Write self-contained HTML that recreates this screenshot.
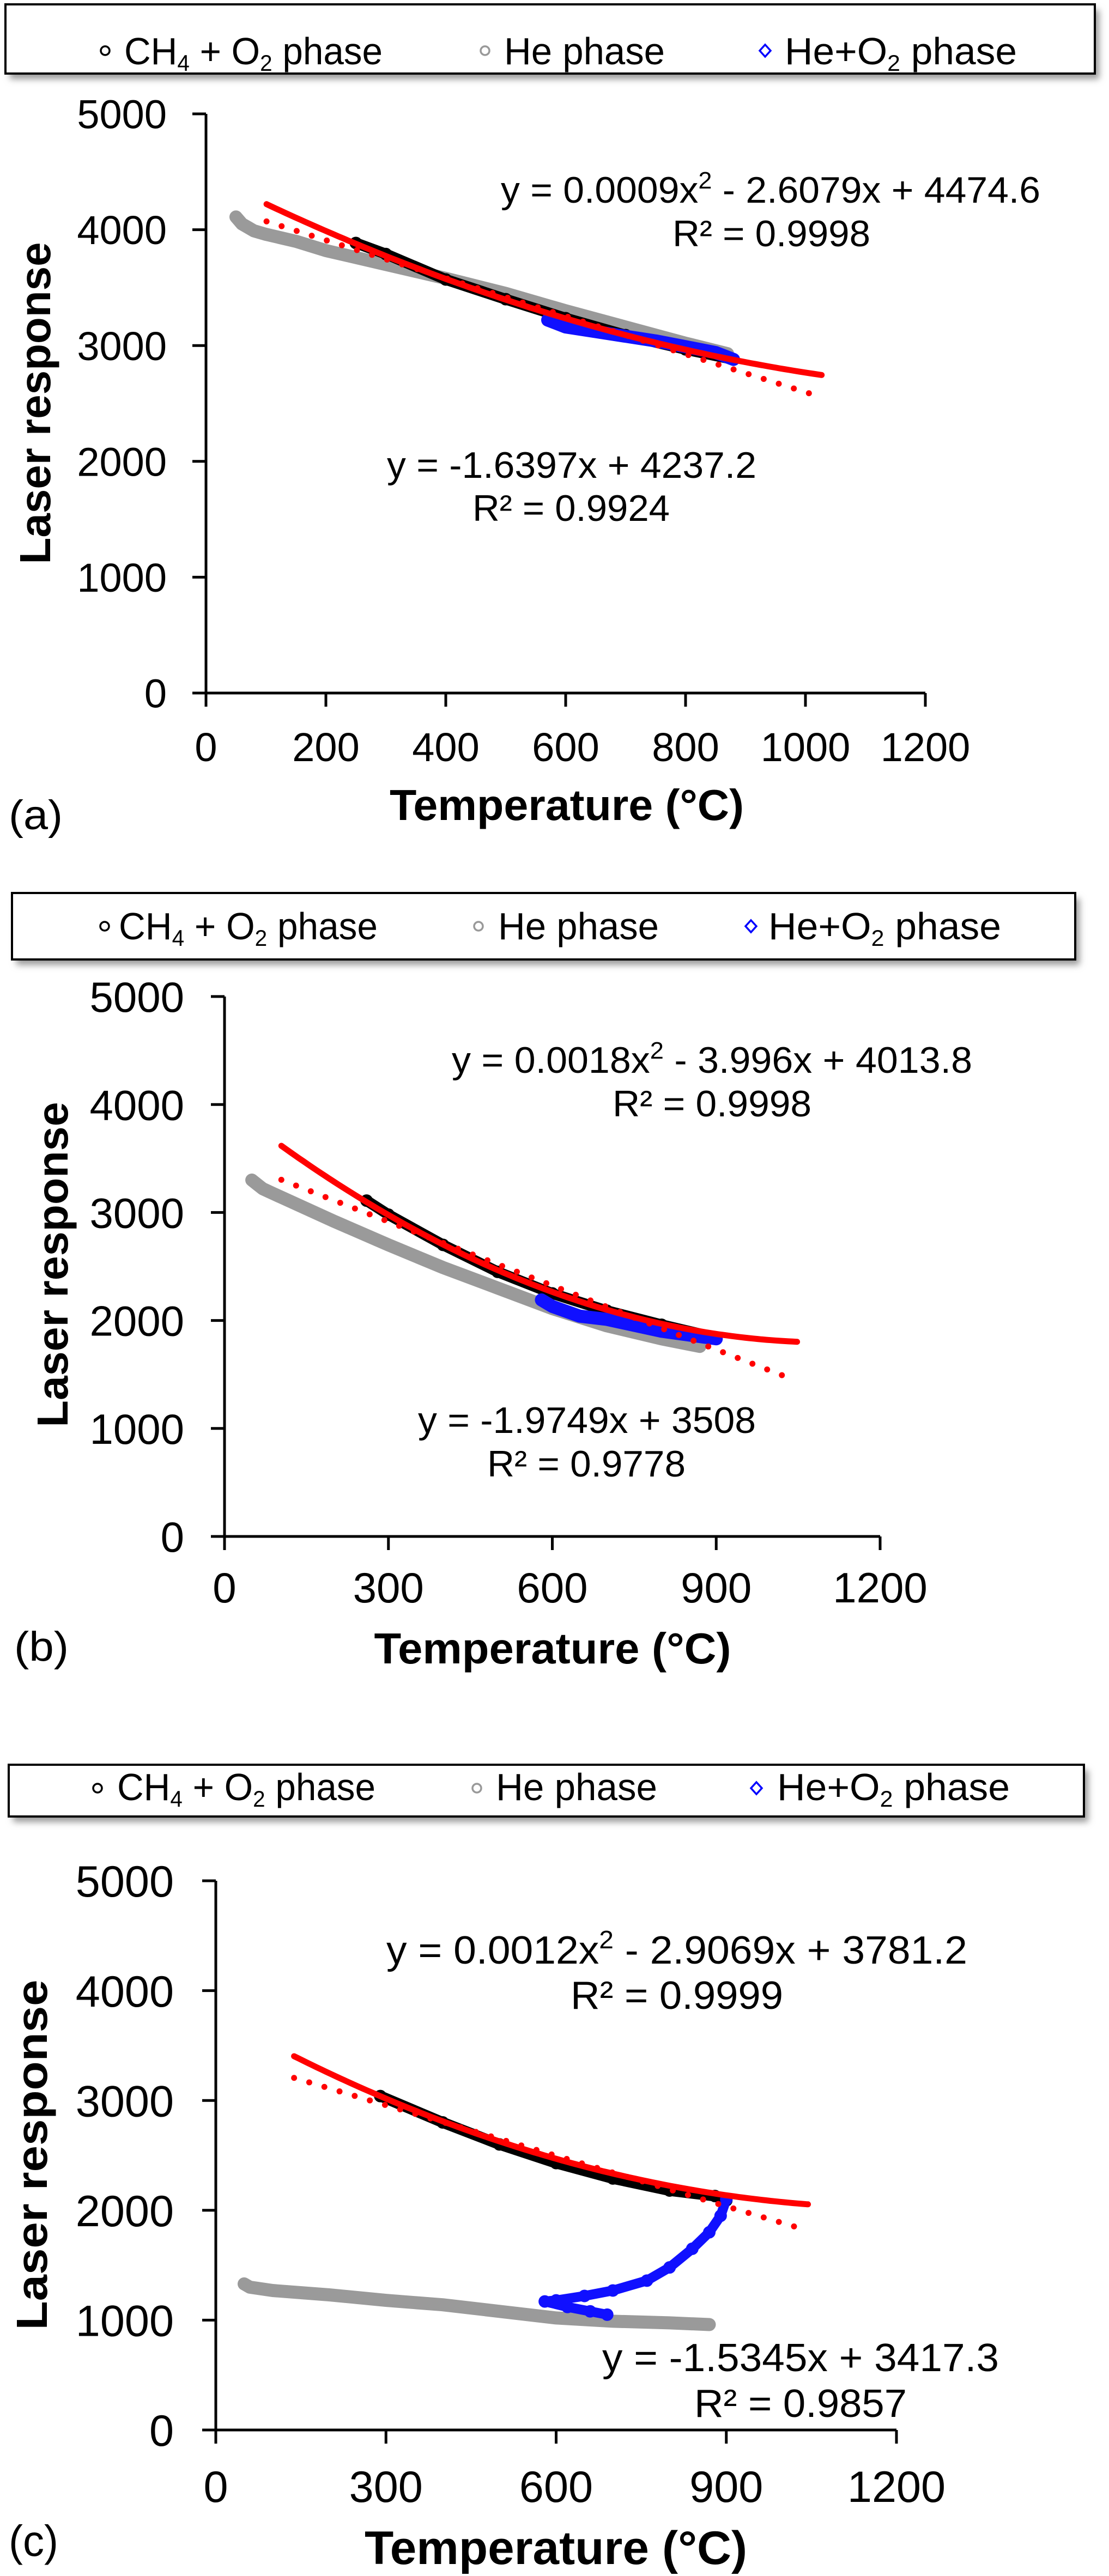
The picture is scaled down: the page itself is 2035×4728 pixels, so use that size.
<!DOCTYPE html>
<html><head><meta charset="utf-8"><title>Laser response vs temperature</title>
<style>html,body{margin:0;padding:0;background:#fff}svg{display:block}text{font-family:"Liberation Sans",Arial,sans-serif}</style>
</head><body>
<svg id="fig" xmlns="http://www.w3.org/2000/svg" width="2035" height="4728" viewBox="0 0 2035 4728">
<defs><filter id="sh" x="-5%" y="-20%" width="110%" height="160%"><feGaussianBlur stdDeviation="6"/></filter></defs>
<g>
<rect x="18" y="18" width="1999" height="127" fill="#999" filter="url(#sh)"/>
<rect x="10" y="8" width="1999" height="127" fill="#fff" stroke="#000" stroke-width="4"/>
<circle cx="193" cy="93" r="8" fill="none" stroke="#000" stroke-width="3.5"/>
<text x="228" y="118" font-size="70" textLength="474" lengthAdjust="spacingAndGlyphs">CH<tspan font-size="42" dy="12">4</tspan><tspan dy="-12"> + O</tspan><tspan font-size="42" dy="12">2</tspan><tspan dy="-12"> phase</tspan></text>
<circle cx="890" cy="93" r="8" fill="none" stroke="#999" stroke-width="3.5"/>
<text x="925" y="118" font-size="70" textLength="295" lengthAdjust="spacingAndGlyphs">He phase</text>
<path d="M1404 82 L1414 93 L1404 104 L1394 93 Z" fill="none" stroke="#00f" stroke-width="3.5"/>
<text x="1440" y="118" font-size="70" textLength="426" lengthAdjust="spacingAndGlyphs">He+O<tspan font-size="42" dy="12">2</tspan><tspan dy="-12"> phase</tspan></text>
</g>
<g>
<rect x="30" y="1649" width="1951" height="122" fill="#999" filter="url(#sh)"/>
<rect x="22" y="1639" width="1951" height="122" fill="#fff" stroke="#000" stroke-width="4"/>
<circle cx="192" cy="1700" r="8" fill="none" stroke="#000" stroke-width="3.5"/>
<text x="218" y="1724" font-size="70" textLength="475" lengthAdjust="spacingAndGlyphs">CH<tspan font-size="42" dy="12">4</tspan><tspan dy="-12"> + O</tspan><tspan font-size="42" dy="12">2</tspan><tspan dy="-12"> phase</tspan></text>
<circle cx="878" cy="1700" r="8" fill="none" stroke="#999" stroke-width="3.5"/>
<text x="914" y="1724" font-size="70" textLength="295" lengthAdjust="spacingAndGlyphs">He phase</text>
<path d="M1378 1689 L1388 1700 L1378 1711 L1368 1700 Z" fill="none" stroke="#00f" stroke-width="3.5"/>
<text x="1410" y="1724" font-size="70" textLength="427" lengthAdjust="spacingAndGlyphs">He+O<tspan font-size="42" dy="12">2</tspan><tspan dy="-12"> phase</tspan></text>
</g>
<g>
<rect x="24" y="3249" width="1973" height="95" fill="#999" filter="url(#sh)"/>
<rect x="16" y="3239" width="1973" height="95" fill="#fff" stroke="#000" stroke-width="4"/>
<circle cx="179" cy="3282" r="8" fill="none" stroke="#000" stroke-width="3.5"/>
<text x="215" y="3304" font-size="70" textLength="474" lengthAdjust="spacingAndGlyphs">CH<tspan font-size="42" dy="12">4</tspan><tspan dy="-12"> + O</tspan><tspan font-size="42" dy="12">2</tspan><tspan dy="-12"> phase</tspan></text>
<circle cx="875" cy="3282" r="8" fill="none" stroke="#999" stroke-width="3.5"/>
<text x="910" y="3304" font-size="70" textLength="296" lengthAdjust="spacingAndGlyphs">He phase</text>
<path d="M1388 3271 L1398 3282 L1388 3293 L1378 3282 Z" fill="none" stroke="#00f" stroke-width="3.5"/>
<text x="1426" y="3304" font-size="70" textLength="427" lengthAdjust="spacingAndGlyphs">He+O<tspan font-size="42" dy="12">2</tspan><tspan dy="-12"> phase</tspan></text>
</g>
<g font-size="68">
<text x="919" y="372" textLength="990" lengthAdjust="spacingAndGlyphs">y = 0.0009x<tspan font-size="44" dy="-26">2</tspan><tspan dy="26"> - 2.6079x + 4474.6</tspan></text>
<text x="1234" y="452" textLength="363" lengthAdjust="spacingAndGlyphs">R² = 0.9998</text>
<text x="710" y="877" textLength="678" lengthAdjust="spacingAndGlyphs">y = -1.6397x + 4237.2</text>
<text x="867" y="956" textLength="362" lengthAdjust="spacingAndGlyphs">R² = 0.9924</text>
<text x="16" y="1522" font-size="76" textLength="99" lengthAdjust="spacingAndGlyphs">(a)</text>
<text x="829" y="1969" textLength="955" lengthAdjust="spacingAndGlyphs">y = 0.0018x<tspan font-size="44" dy="-26">2</tspan><tspan dy="26"> - 3.996x + 4013.8</tspan></text>
<text x="1124" y="2049" textLength="365" lengthAdjust="spacingAndGlyphs">R² = 0.9998</text>
<text x="767" y="2630" textLength="620" lengthAdjust="spacingAndGlyphs">y = -1.9749x + 3508</text>
<text x="894" y="2710" textLength="364" lengthAdjust="spacingAndGlyphs">R² = 0.9778</text>
<text x="26" y="3048" font-size="76" textLength="100" lengthAdjust="spacingAndGlyphs">(b)</text>
<text x="709" y="3604" font-size="72" textLength="1066" lengthAdjust="spacingAndGlyphs">y = 0.0012x<tspan font-size="46" dy="-28">2</tspan><tspan dy="28"> - 2.9069x + 3781.2</tspan></text>
<text x="1047" y="3687" font-size="72" textLength="390" lengthAdjust="spacingAndGlyphs">R² = 0.9999</text>
<text x="1105" y="4352" font-size="72" textLength="728" lengthAdjust="spacingAndGlyphs">y = -1.5345x + 3417.3</text>
<text x="1274" y="4436" font-size="72" textLength="390" lengthAdjust="spacingAndGlyphs">R² = 0.9857</text>
<text x="16" y="4691" font-size="80" textLength="91" lengthAdjust="spacingAndGlyphs">(c)</text>
</g>
</svg>
<script>
// ---- Data ----
const yTicks = [0, 1000, 2000, 3000, 4000, 5000];
const xTicksA = [0, 200, 400, 600, 800, 1000, 1200];
const xTicksBC = [0, 300, 600, 900, 1200];

const quadA = [0.0009, -2.6079, 4474.6];
const linA = [-1.6397, 4237.2];
const quadB = [0.0018, -3.996, 4013.8];
const linB = [-1.9749, 3508];
const quadC = [0.0012, -2.9069, 3781.2];
const linC = [-1.5345, 3417.3];

const heTempA = [50, 55, 60, 70, 80, 100, 150, 200, 300, 400, 500, 600, 700, 800, 870];
const heValA  = [4110, 4080, 4050, 4020, 3990, 3960, 3900, 3820, 3700, 3580, 3450, 3300, 3160, 3020, 2930];
const ch4TempA = [250, 300, 400, 500, 600, 700, 800, 880];
const ch4ValA  = [3885, 3790, 3570, 3400, 3236, 3090, 2967, 2880];
const heo2TempA = [570, 600, 650, 700, 750, 800, 850, 880];
const heo2ValA  = [3220, 3160, 3120, 3080, 3040, 2990, 2940, 2880];

const heTempB = [50, 60, 70, 100, 200, 300, 400, 500, 600, 700, 800, 870];
const heValB  = [3300, 3260, 3220, 3150, 2920, 2700, 2490, 2300, 2110, 1950, 1830, 1760];
const ch4TempB = [260, 300, 400, 500, 600, 700, 800, 900];
const ch4ValB  = [3110, 2980, 2700, 2450, 2250, 2090, 1960, 1840];
const heo2TempB = [580, 600, 650, 700, 800, 900];
const heo2ValB  = [2190, 2130, 2040, 2010, 1900, 1830];

const heTempC = [50, 60, 100, 200, 300, 400, 500, 600, 700, 800, 870];
const heValC  = [1330, 1300, 1270, 1230, 1180, 1140, 1080, 1020, 990, 975, 960];
const ch4TempC = [290, 400, 500, 600, 700, 800, 880, 900];
const ch4ValC  = [3040, 2800, 2600, 2430, 2290, 2180, 2130, 2090];
const heo2TempC = [900, 890, 870, 840, 800, 760, 700, 650, 600, 580, 620, 660, 690];
const heo2ValC  = [2100, 1950, 1800, 1650, 1480, 1360, 1270, 1220, 1180, 1170, 1120, 1080, 1050];

// ---- Panel geometry (pixels, not data) ----
const panels = [
  {id:'a', xL:378, xR:1698, yB:1272, yT:209, xmax:1200, xt:xTicksA, tfs:74, tickR:306, xlabB:1397,
   titleX:1040, titleB:1505, titleLen:650, titleFs:80, ytX:92, ytY:740, ytLen:591,
   quad:quadA, lin:linA, qr:[101,1027], lr:[101,1010],
   he:[heTempA,heValA], ch4:[ch4TempA,ch4ValA], heo2:[heo2TempA,heo2ValA]},
  {id:'b', xL:412, xR:1615, yB:2820, yT:1829, xmax:1200, xt:xTicksBC, tfs:78, tickR:338, xlabB:2941,
   titleX:1014, titleB:3053, titleLen:655, titleFs:80, ytX:124, ytY:2321, ytLen:597,
   quad:quadB, lin:linB, qr:[104,1048], lr:[104,1038],
   he:[heTempB,heValB], ch4:[ch4TempB,ch4ValB], heo2:[heo2TempB,heo2ValB]},
  {id:'c', xL:396, xR:1645, yB:4460, yT:3452, xmax:1200, xt:xTicksBC, tfs:81, tickR:319, xlabB:4592,
   titleX:1020, titleB:4706, titleLen:702, titleFs:86, ytX:86, ytY:3955, ytLen:643,
   quad:quadC, lin:linC, qr:[138,1044], lr:[138,1044],
   he:[heTempC,heValC], ch4:[ch4TempC,ch4ValC], heo2:[heo2TempC,heo2ValC]}
];

const NS = 'http://www.w3.org/2000/svg';
const svg = document.getElementById('fig');
function el(tag, attrs, parent) {
  const e = document.createElementNS(NS, tag);
  for (const k in attrs) e.setAttribute(k, attrs[k]);
  (parent || svg).appendChild(e);
  return e;
}

panels.forEach(p => {
  const X = t => p.xL + (t / p.xmax) * (p.xR - p.xL);
  const Y = v => p.yB - (v / 5000) * (p.yB - p.yT);
  const g = el('g', {});
  
  

  const ya = el('line', {x1:p.xL, y1:p.yB, x2:p.xL, y2:p.yT, stroke:'#000', 'stroke-width':5}, g);
  
  
  const xa = el('line', {x1:p.xL, y1:p.yB, x2:p.xR, y2:p.yB, stroke:'#000', 'stroke-width':5}, g);
  
  

  yTicks.forEach(v => {
    const tk = el('line', {x1:p.xL-25, y1:Y(v), x2:p.xL, y2:Y(v), stroke:'#000', 'stroke-width':5}, g);
    
    
    const tl = el('text', {x:p.tickR, y:Y(v) + p.tfs*0.36, 'text-anchor':'end', 'font-size':p.tfs}, g);
    tl.textContent = String(v);
    
    
  });
  p.xt.forEach(t => {
    const tk = el('line', {x1:X(t), y1:p.yB, x2:X(t), y2:p.yB+25, stroke:'#000', 'stroke-width':5}, g);
    
    
    const tl = el('text', {x:X(t), y:p.xlabB, 'text-anchor':'middle', 'font-size':p.tfs}, g);
    tl.textContent = String(t);
    
    
  });

  const xt = el('text', {x:p.titleX - p.titleLen/2, y:p.titleB, 'font-size':p.titleFs, 'font-weight':'bold', textLength:p.titleLen, lengthAdjust:'spacingAndGlyphs'}, g);
  xt.textContent = 'Temperature (°C)';
  
  
  const yt = el('text', {x:0, y:0, 'font-size':80, 'font-weight':'bold', 'text-anchor':'middle', textLength:p.ytLen, lengthAdjust:'spacingAndGlyphs', transform:'translate(' + p.ytX + ',' + p.ytY + ') rotate(-90)'}, g);
  yt.textContent = 'Laser response';
  
  

  function series(arr, color, width, name) {
    const [ts, vs] = arr;
    const d = ts.map((t, i) => (i ? 'L' : 'M') + X(t).toFixed(1) + ' ' + Y(vs[i]).toFixed(1)).join(' ');
    const sg = el('g', {}, g);
    
    
    const pth = el('path', {d:d, fill:'none', stroke:color, 'stroke-width':width, 'stroke-linejoin':'round', 'stroke-linecap':'round'}, sg);
    
    
    ts.forEach((t, i) => {
      const m = el('circle', {cx:X(t), cy:Y(vs[i]), r:10, fill:'none', stroke:color, 'stroke-width':3}, sg);
      
      
    });
  }
  series(p.he, '#9a9a9a', 24, 'he-phase');
  series(p.ch4, '#000', 20, 'ch4-o2-phase');
  series(p.heo2, '#1010ff', p.id === 'c' ? 18 : 24, 'he-o2-phase');

  const qPts = [], lPts = [];
  for (let t = p.qr[0]; t <= p.qr[1]; t += 8) qPts.push([t, p.quad[0]*t*t + p.quad[1]*t + p.quad[2]]);
  qPts.push([p.qr[1], p.quad[0]*p.qr[1]*p.qr[1] + p.quad[1]*p.qr[1] + p.quad[2]]);
  lPts.push([p.lr[0], p.lin[0]*p.lr[0] + p.lin[1]]);
  lPts.push([p.lr[1], p.lin[0]*p.lr[1] + p.lin[1]]);
  const ld = el('path', {d:'M' + X(lPts[0][0]) + ' ' + Y(lPts[0][1]) + ' L' + X(lPts[1][0]) + ' ' + Y(lPts[1][1]), fill:'none', stroke:'#f00', 'stroke-width':11, 'stroke-linecap':'round', 'stroke-dasharray':'0 29'}, g);
  
  
  const qd = el('path', {d:qPts.map((q, i) => (i ? 'L' : 'M') + X(q[0]).toFixed(1) + ' ' + Y(q[1]).toFixed(1)).join(' '), fill:'none', stroke:'#f00', 'stroke-width':11, 'stroke-linecap':'round', 'stroke-linejoin':'round'}, g);
  
  
});
</script>
</body></html>
